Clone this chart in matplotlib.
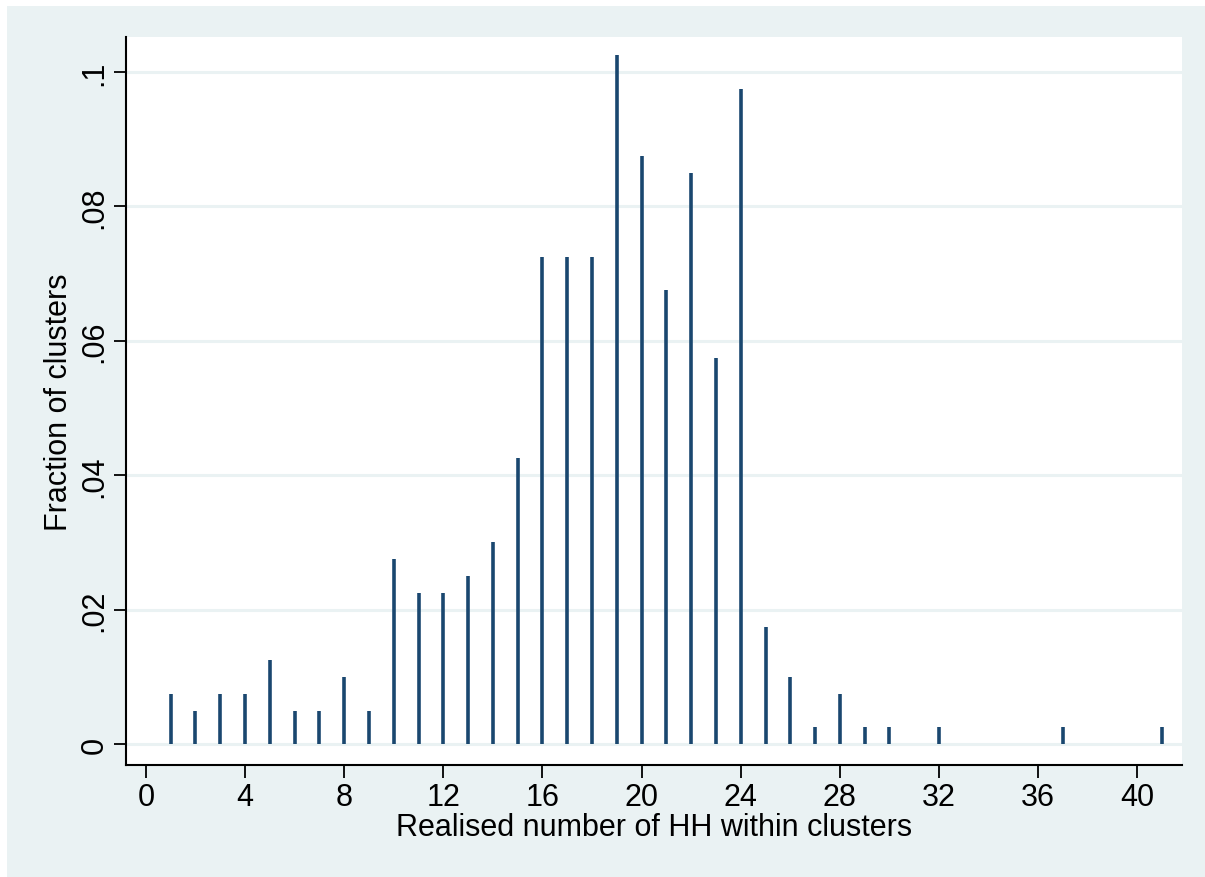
import matplotlib
matplotlib.use("Agg")
import matplotlib.pyplot as plt
from matplotlib.patches import Rectangle

plt.rcParams['font.family'] = ['Liberation Sans', 'DejaVu Sans']

# Data: realised number of households per cluster and fraction of clusters
hh_counts = [1, 2, 3, 4, 5, 6, 7, 8, 9, 10, 11, 12, 13, 14, 15, 16, 17, 18, 19, 20,
             21, 22, 23, 24, 25, 26, 27, 28, 29, 30, 32, 37, 41]
fractions = [0.0075, 0.005, 0.0075, 0.0075, 0.0125, 0.005, 0.005, 0.01, 0.005, 0.0275,
             0.0225, 0.0225, 0.025, 0.03, 0.0425, 0.0725, 0.0725, 0.0725, 0.1025, 0.0875,
             0.0675, 0.085, 0.0575, 0.0975, 0.0175, 0.01, 0.0025, 0.0075, 0.0025, 0.0025,
             0.0025, 0.0025, 0.0025]

x_ticks = [0, 4, 8, 12, 16, 20, 24, 28, 32, 36, 40]
y_ticks = [0, 0.02, 0.04, 0.06, 0.08, 0.1]
y_tick_labels = ["0", ".02", ".04", ".06", ".08", ".1"]

W, H = 1205, 878
fig = plt.figure(figsize=(W / 100, H / 100), dpi=100)
fig.patch.set_facecolor('white')
bg = Rectangle((7 / W, 0), 1 - 7 / W, 1 - 7 / H, transform=fig.transFigure,
               facecolor='#EAF2F3', edgecolor='none', zorder=-10)
fig.patches.append(bg)

ax = fig.add_axes([126 / W, 1 - 766 / H, (1182 - 126) / W, (766 - 38) / H])
ax.set_facecolor('white')

ax.vlines(hh_counts, 0, fractions, colors='#1A476F', linewidth=2.6, zorder=3)

ax.set_xlim(-0.8, 41.8)
ax.set_ylim(-0.0031, 0.1052)

ax.set_xticks(x_ticks)
ax.set_xticklabels([str(t) for t in x_ticks], fontsize=22)
ax.set_yticks(y_ticks)
ax.set_yticklabels(y_tick_labels, fontsize=22, rotation=90, va='center')

for y in y_ticks:
    ax.axhline(y, color='#EAF2F3', linewidth=2.2, zorder=1)

for s in ['top', 'right']:
    ax.spines[s].set_visible(False)
for s in ['left', 'bottom']:
    ax.spines[s].set_color('black')
    ax.spines[s].set_linewidth(1.5)

ax.tick_params(axis='both', direction='out', length=9, width=1.3, color='black', labelcolor='black')
ax.tick_params(axis='x', pad=3)
ax.tick_params(axis='y', pad=3)

ax.set_xlabel('Realised number of HH within clusters', fontsize=22, labelpad=0)
ax.set_ylabel('Fraction of clusters', fontsize=22, labelpad=4)

fig.savefig('out.png', dpi=100, facecolor=fig.get_facecolor())
